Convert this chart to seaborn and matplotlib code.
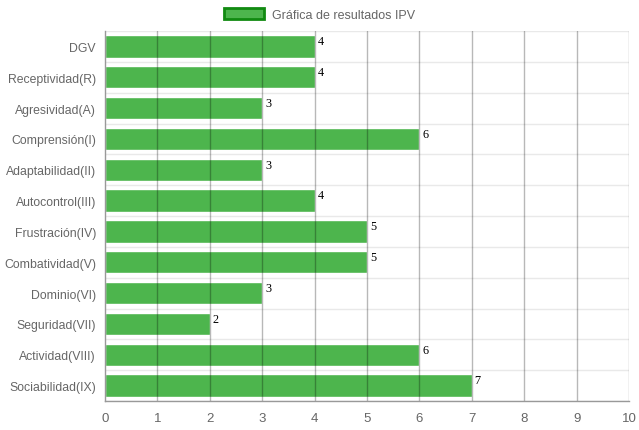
import matplotlib
matplotlib.use("Agg")
import matplotlib.pyplot as plt
from matplotlib.patches import Patch
from matplotlib.ticker import FixedLocator
import seaborn as sns
import pandas as pd

categories = [
    "DGV", "Receptividad(R)", "Agresividad(A)", "Comprensión(I)",
    "Adaptabilidad(II)", "Autocontrol(III)", "Frustración(IV)",
    "Combatividad(V)", "Dominio(VI)", "Seguridad(VII)",
    "Actividad(VIII)", "Sociabilidad(IX)",
]
values = [4, 4, 3, 6, 3, 4, 5, 5, 3, 2, 6, 7]
x_ticks = [0, 1, 2, 3, 4, 5, 6, 7, 8, 9, 10]
series_label = "Gráfica de resultados IPV"

bar_color = "#4db54d"
edge_color = "#118a11"
text_gray = "#666666"

sns.set_theme(style="white")
plt.rcParams["font.family"] = ["Liberation Sans", "DejaVu Sans"]

df = pd.DataFrame({"categoria": categories, "valor": values})

fig = plt.figure(figsize=(6.39, 4.31), dpi=100)
ax = fig.add_axes([105 / 639, 1 - 402 / 431, 524 / 639, 370 / 431])

sns.barplot(data=df, x="valor", y="categoria", orient="h", color=bar_color,
            saturation=1, width=0.72, ax=ax, zorder=1)

ax.set_xlim(0, 10)
ax.set_ylim(len(categories) - 0.5, -0.5)
ax.set_xlabel("")
ax.set_ylabel("")

ax.xaxis.set_major_locator(FixedLocator(x_ticks))
ax.set_xticklabels([str(t) for t in x_ticks])
ax.yaxis.set_minor_locator(FixedLocator([i + 0.5 for i in range(-1, len(categories))]))

# vertical grid drawn over the bars, horizontal separators between categories
ax.grid(False)
for t in x_ticks[1:]:
    ax.axvline(t, color="black", alpha=0.28, lw=1, zorder=3)
ax.grid(which="minor", axis="y", color="#e9e9e9", lw=1, zorder=0)

ax.tick_params(axis="y", which="major", length=0, pad=6.5, labelsize=8.8, labelcolor=text_gray)
ax.tick_params(axis="y", which="minor", length=6, color="#e9e9e9", width=1)
ax.tick_params(axis="x", which="major", length=6, color="#999999", width=1,
               labelsize=9.5, labelcolor=text_gray, pad=2)

for s in ["top", "right"]:
    ax.spines[s].set_visible(False)
for s in ["left", "bottom"]:
    ax.spines[s].set_color("#999999")
    ax.spines[s].set_linewidth(1)
    ax.spines[s].set_zorder(4)

for i, v in enumerate(values):
    ax.annotate(str(v), xy=(v, i - 0.36), xytext=(2, 0), textcoords="offset points",
                ha="left", va="top", fontsize=8.8, color="black",
                family=["Liberation Serif", "DejaVu Serif"], zorder=5)

handle = Patch(facecolor=bar_color, edgecolor=edge_color, linewidth=2)
fig.legend(handles=[handle], labels=[series_label], loc="upper center",
           bbox_to_anchor=(0.5, 1.0), frameon=False, fontsize=9,
           handlelength=3.2, handleheight=1.0, handletextpad=0.6,
           labelcolor=text_gray, borderaxespad=0.3)

fig.savefig("out.png", dpi=100)
